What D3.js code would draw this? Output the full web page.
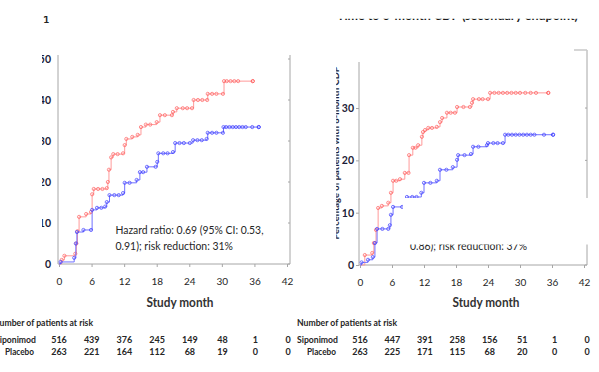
<!DOCTYPE html>
<html>
<head>
<meta charset="utf-8">
<script src="https://cdn.jsdelivr.net/npm/d3@7"></script>
<style>
  body { margin: 0; background: #fff; }
  svg { display: block; font-family: Lato, "Open Sans", sans-serif; }
</style>
</head>
<body>
<div id="chart"></div>
<script>
const width = 599;
const height = 372;

// study months on the x axis and in the risk tables
const months = [0, 6, 12, 18, 24, 30, 36, 42];
const leftYTicks = [0, 10, 20, 30, 40, 50];
const rightYTicks = [0, 10, 20, 30];

// patients at risk
const leftSiponimodAtRisk = [516, 439, 376, 245, 149, 48, 1, 0];
const leftPlaceboAtRisk = [263, 221, 164, 112, 68, 19, 0, 0];
const rightSiponimodAtRisk = [516, 447, 391, 258, 156, 51, 1, 0];
const rightPlaceboAtRisk = [263, 225, 171, 115, 68, 20, 0, 0];

// cumulative % with event, [month, percent] at each step
const leftPlacebo = [[0,0],[0.5,1],[1,2],[3.0,2.5],[3.2,5],[3.4,8],[3.7,11.5],[5,12.2],[5.9,12.7],[6.1,17],[6.4,18.3],[8.8,18.5],[9,20],[9.2,23],[9.6,26],[10,26.8],[11.8,27],[12.1,29],[12.4,30.5],[13.5,31],[14.5,31.5],[15.1,33.4],[16,34],[18,34.6],[18.6,36.3],[20.8,36.3],[21,37.1],[21.7,38],[24.5,38],[24.8,40],[27.3,40],[27.4,41.5],[30.2,41.5],[30.4,44.6],[35.7,44.6]];
const leftSiponimod = [[0,0],[0.3,0.5],[2.8,1.5],[3.1,5],[3.3,7.8],[4.5,8.3],[5.9,8.3],[6.1,13.2],[7,13.7],[8.5,14],[8.8,15.1],[9.3,16.8],[11.8,17.3],[12.1,19.8],[14.3,20.5],[14.9,22.4],[16.2,23.7],[17.8,23.7],[18.1,24.9],[18.3,27],[21.0,27.3],[21.4,29.5],[24.1,29.5],[24.7,30.2],[27.2,30.5],[27.4,32],[30.2,32],[30.3,33.4],[36.8,33.4]];
const rightPlacebo = [[0,0],[0.9,1.9],[2.3,2.3],[2.6,4.2],[3.0,6.7],[3.4,10.9],[4.1,11.3],[5.3,11.9],[5.8,13.8],[6.2,16.1],[7.5,16.4],[8.4,17.6],[9.1,17.6],[9.2,21],[9.9,22.4],[10.9,22.9],[11.6,24.5],[11.8,25.4],[12.2,25.8],[12.8,26.2],[14.4,26.4],[15,27.3],[15.4,28.1],[16.3,29.1],[17.8,29.1],[18.2,30.2],[20.6,30.2],[21,31],[21.2,31.7],[24,31.7],[24.4,32.9],[35.3,32.9]];
const rightSiponimod = [[0,0],[0.3,0.5],[1.5,1],[2.4,1.5],[2.8,4.2],[3.2,6.9],[5.3,6.9],[5.6,7.6],[5.8,9.6],[6.2,11.1],[7.9,11.1],[8.8,13],[11.5,13.8],[12,15.7],[14.4,16.1],[15,18.2],[17.4,18.7],[18.2,20.1],[18.4,21],[20.8,21.2],[21.2,22.6],[23.8,22.9],[24,23.3],[26.8,23.3],[27.2,24.9],[36.2,24.9]];

// censoring marks read along the plateaus (months)
const leftPlaceboCensor = [7.2, 8.0, 10.8, 16.8, 19.5, 22.8, 23.6, 25.6, 26.4, 28.2, 29.0, 30.9, 31.6, 32.3, 33.0, 35.7];
const leftSiponimodCensor = [7.8, 10.2, 11.0, 13.0, 15.5, 19.2, 20.0, 22.2, 23.0, 25.5, 26.3, 28.2, 29.0, 30.8, 31.4, 32.0, 32.6, 33.2, 33.8, 34.4, 35.6, 36.8];
const rightPlaceboCensor = [6.8, 10.4, 13.5, 17.0, 19.4, 22.3, 23.0, 25.2, 26.0, 26.8, 27.6, 28.4, 29.2, 30.0, 31.0, 32.0, 33.0, 35.3];
const rightSiponimodCensor = [4.2, 9.8, 10.6, 13.2, 16.2, 19.6, 22.2, 25.0, 25.8, 27.8, 28.5, 29.2, 29.9, 30.6, 31.3, 32.0, 32.7, 34.5, 36.2];

const placeboColour = "#ff5a5a";
const siponimodColour = "#3a3aff";
const axisColour = "#a6a6a6";
const textColour = "#262626";

const svg = d3.select("#chart")
              .append("svg")
              .attr("width", width)
              .attr("height", height)
              .attr("viewBox", `0 0 ${width} ${height}`);

const defs = svg.append("defs");
function addClip(id, x, y, w, h){
  defs.append("clipPath").attr("id", id)
      .append("rect").attr("x", x).attr("y", y).attr("width", w).attr("height", h);
}
addClip("left-ylabels", 42, 0, 30, 300);
addClip("right-title", 300, 18.8, 299, 20);
addClip("left-title", 0, 16, 100, 20);
addClip("right-ytitle", 336.2, 0, 20, 300);
addClip("right-hr", 400, 244.5, 199, 20);

const leftPanel = {
  x: d3.scaleLinear().domain([0, 42]).range([59, 287]),
  y: d3.scaleLinear().domain([0, 50]).range([264, 59]),
  yTicks: leftYTicks, yTop: 55, xEnd: 290, frameTop: 55,
  yTickSize: 0, yPad: 7, yClip: "left-ylabels",
  placebo: leftPlacebo, siponimod: leftSiponimod,
  placeboCensor: leftPlaceboCensor, siponimodCensor: leftSiponimodCensor,
  sipRisk: leftSiponimodAtRisk, plaRisk: leftPlaceboAtRisk,
  riskShift: 1, labelRight: 36, headerX: -7, monthX: 180
};
const rightPanel = {
  x: d3.scaleLinear().domain([0, 42]).range([360, 584]),
  y: d3.scaleLinear().domain([0, 38.8]).range([265, 62]),
  yTicks: rightYTicks, yTop: 62, xEnd: 587, frameTop: 50,
  yTickSize: 3, yPad: 2, yClip: null,
  placebo: rightPlacebo, siponimod: rightSiponimod,
  placeboCensor: rightPlaceboCensor, siponimodCensor: rightSiponimodCensor,
  sipRisk: rightSiponimodAtRisk, plaRisk: rightPlaceboAtRisk,
  riskShift: 3, labelRight: 338, headerX: 297, monthX: 486
};

drawPanel(leftPanel);
drawPanel(rightPanel);
rightPanelExtras();

function valueAt(series, t){
  let v = 0;
  series.forEach(p => { if(p[0] <= t) v = p[1]; });
  return v;
}

function drawPanel(p){
  const g = svg.append("g");
  const x0 = p.x(0) - 1;
  const yBase = p.y(0);

  // axes and frame
  g.append("line").attr("x1", x0).attr("x2", x0).attr("y1", p.yTop).attr("y2", yBase)
   .attr("stroke", axisColour);
  g.append("line").attr("x1", x0).attr("x2", p.xEnd).attr("y1", yBase).attr("y2", yBase)
   .attr("stroke", axisColour);
  g.append("line").attr("x1", p.xEnd).attr("x2", p.xEnd).attr("y1", p.frameTop).attr("y2", yBase)
   .attr("stroke", axisColour);
  if(p.frameTop < p.yTop){
    g.append("line").attr("x1", p.xEnd - 13).attr("x2", p.xEnd).attr("y1", p.frameTop).attr("y2", p.frameTop)
     .attr("stroke", "#c8c8c8").attr("stroke-width", 1.5);
  }
  g.selectAll(".frame-tick").data(p.yTicks).enter().append("line")
   .attr("x1", p.xEnd - 2).attr("x2", p.xEnd)
   .attr("y1", d => p.y(d)).attr("y2", d => p.y(d))
   .attr("stroke", axisColour);

  const xAxis = g.append("g")
                 .attr("transform", `translate(0, ${yBase})`)
                 .call(d3.axisBottom(p.x).tickValues(months).tickSize(3).tickPadding(11));
  xAxis.select(".domain").remove();
  xAxis.selectAll("line").attr("stroke", axisColour);
  xAxis.selectAll("text").attr("font-size", 10).attr("fill", textColour)
       .attr("font-family", "Lato, sans-serif");

  const yHolder = g.append("g");
  if(p.yClip) yHolder.attr("clip-path", `url(#${p.yClip})`);
  const yAxis = yHolder.append("g")
                 .attr("transform", `translate(${x0}, 0)`)
                 .call(d3.axisLeft(p.y).tickValues(p.yTicks).tickSize(p.yTickSize).tickPadding(p.yPad));
  yAxis.select(".domain").remove();
  yAxis.selectAll("line").attr("stroke", axisColour);
  yAxis.selectAll("text").attr("font-size", 10.5).attr("font-weight", "bold")
       .attr("fill", "#1c1c38").attr("font-family", "Lato, sans-serif");

  // curves
  const line = d3.line()
                 .x(d => p.x(d[0]))
                 .y(d => p.y(d[1]))
                 .curve(d3.curveStepAfter);

  drawCurve(g, p, line, p.placebo, p.placeboCensor, placeboColour, "#ff9a9a");
  drawCurve(g, p, line, p.siponimod, p.siponimodCensor, siponimodColour, "#7070ff");

  // study month label
  g.append("text").attr("x", p.monthX).attr("y", 307)
   .attr("text-anchor", "middle").attr("font-size", 12.5).attr("font-weight", "bold")
   .attr("fill", "#333").attr("textLength", 67).attr("lengthAdjust", "spacingAndGlyphs")
   .text("Study month");

  // risk table
  g.append("text").attr("x", p.headerX).attr("y", 326)
   .attr("font-size", 9).attr("font-weight", "bold").attr("fill", textColour)
   .attr("textLength", 100).attr("lengthAdjust", "spacingAndGlyphs")
   .text("Number of patients at risk");

  g.append("text").attr("x", p.labelRight).attr("y", 343)
   .attr("text-anchor", "end").attr("font-size", 9.5).attr("font-weight", "bold").attr("fill", textColour)
   .attr("textLength", 41).attr("lengthAdjust", "spacingAndGlyphs")
   .text("Siponimod");
  g.append("text").attr("x", p.labelRight - 2).attr("y", 354.5)
   .attr("text-anchor", "end").attr("font-size", 9.5).attr("font-weight", "bold").attr("fill", textColour)
   .attr("textLength", 29).attr("lengthAdjust", "spacingAndGlyphs")
   .text("Placebo");

  [[p.sipRisk, 343], [p.plaRisk, 354.5]].forEach(row => {
    g.selectAll(null).data(row[0]).enter().append("text")
     .attr("x", (d, i) => p.x(months[i]) + p.riskShift * i / 7)
     .attr("y", row[1])
     .attr("text-anchor", "middle").attr("font-size", 9).attr("font-weight", "bold")
     .attr("fill", textColour)
     .text(d => d);
  });
}

function drawCurve(g, p, line, series, censor, markColour, lineColour){
  g.append("path").datum(series)
   .attr("d", line).attr("fill", "none")
   .attr("stroke", lineColour).attr("stroke-width", 1);

  const marks = series.slice(1).map(d => [d[0], d[1]])
                      .concat(censor.map(t => [t, valueAt(series, t)]));
  g.selectAll(null).data(marks).enter().append("circle")
   .attr("cx", d => p.x(d[0])).attr("cy", d => p.y(d[1]))
   .attr("r", 1.6).attr("fill", "none")
   .attr("stroke", markColour).attr("stroke-width", 0.8).attr("stroke-opacity", 0.85);
}

function rightPanelExtras(){
  // box that hides part of the right panel
  svg.append("rect").attr("x", 403).attr("y", 198).attr("width", 196).attr("height", 46.5)
     .attr("fill", "#fff");

  svg.append("g").attr("clip-path", "url(#right-hr)")
     .append("text").attr("x", 410).attr("y", 250)
     .attr("font-size", 10.5).attr("fill", textColour)
     .attr("textLength", 117).attr("lengthAdjust", "spacingAndGlyphs")
     .text("0.86); risk reduction: 37%");

  svg.append("g").attr("clip-path", "url(#right-title)")
     .append("text").attr("x", 337).attr("y", 20.3)
     .attr("font-size", 14).attr("font-weight", "bold").attr("fill", "#1a1a1a")
     .attr("textLength", 241).attr("lengthAdjust", "spacingAndGlyphs")
     .text("Time to 6-month CDP (secondary endpoint)");

  svg.append("g").attr("clip-path", "url(#left-title)")
     .append("text").attr("x", 43).attr("y", 23)
     .attr("font-size", 11).attr("font-weight", "bold").attr("fill", "#222")
     .text("1");

  svg.append("g").attr("clip-path", "url(#right-ytitle)")
     .append("text").attr("transform", "translate(338.6, 153) rotate(-90)")
     .attr("text-anchor", "middle").attr("font-size", 10).attr("font-weight", "bold")
     .attr("fill", "#1c1c38")
     .attr("textLength", 173).attr("lengthAdjust", "spacingAndGlyphs")
     .text("Percentage of patients with 6-month CDP");
}

// hazard ratio note, left panel
svg.append("text").attr("x", 115.5).attr("y", 233.5)
   .attr("font-size", 10.5).attr("fill", textColour)
   .attr("textLength", 148).attr("lengthAdjust", "spacingAndGlyphs")
   .text("Hazard ratio: 0.69 (95% CI: 0.53,");
svg.append("text").attr("x", 115.5).attr("y", 250)
   .attr("font-size", 10.5).attr("fill", textColour)
   .attr("textLength", 117.5).attr("lengthAdjust", "spacingAndGlyphs")
   .text("0.91); risk reduction: 31%");
</script>
</body>
</html>
